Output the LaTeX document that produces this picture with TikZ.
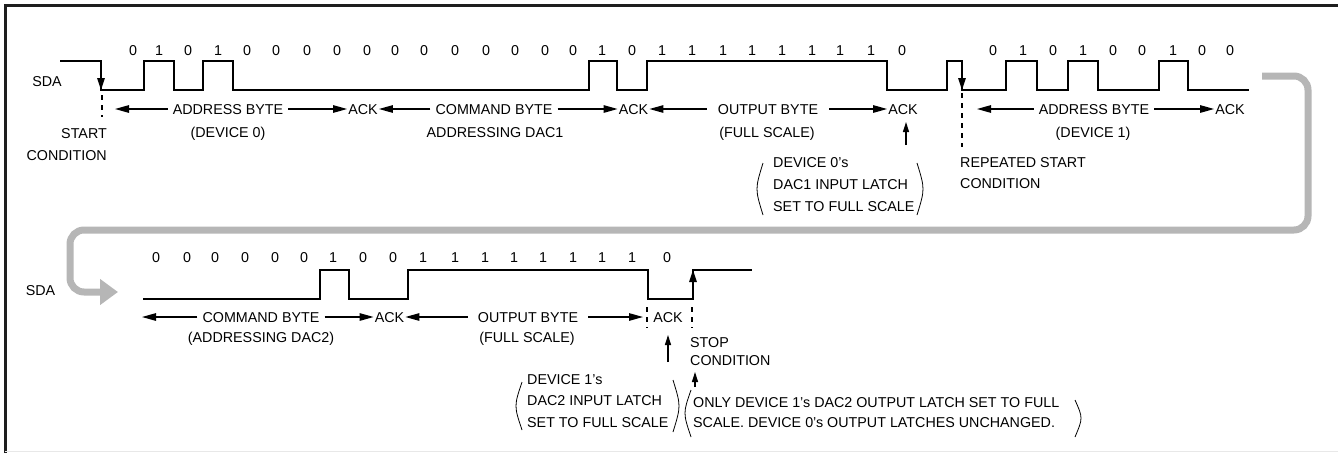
\documentclass[tikz,border=0pt]{standalone}
\usepackage{fontspec}
\setmainfont{Liberation Sans}
\usetikzlibrary{arrows.meta}
\definecolor{grayarrow}{RGB}{182,182,182}
\definecolor{frameline}{RGB}{30,30,30}
\definecolor{bottomline}{RGB}{232,232,232}
\begin{document}
\begin{tikzpicture}[x=1pt,y=-1pt,
  txt/.style={font=\fontsize{14.3}{22}\selectfont, inner xsep=5pt, inner ysep=0pt, text height=10pt, text depth=0pt},
  ack/.style={txt, inner xsep=1pt},
  bitlbl/.style={font=\fontsize{14.3}{16}\selectfont, inner sep=0pt, text height=10pt, text depth=0pt},
  multi/.style={font=\fontsize{14.3}{#1}\selectfont, inner sep=0pt, align=left, anchor=north west},
  wave/.style={line width=1.5pt},
  edgearr/.style={line width=1.5pt, -{Triangle[length=12pt,width=7.5pt]}},
  lblarr/.style={line width=1.2pt, -{Triangle[length=14pt,width=7.5pt]}},
  uparr/.style={line width=1.2pt, -{Triangle[length=10pt,width=6pt]}},
  dashline/.style={line width=1.2pt, dash pattern=on 5pt off 5pt},
  paren/.style={line width=0.8pt},
  bigarrow/.style={draw=grayarrow, line width=7pt, rounded corners=14pt}
]
\useasboundingbox (0,0) rectangle (1338,453);
% frame
\draw[frameline, line width=2.5pt] (5.3,453) -- (5.3,5.3) -- (1338,5.3);
\draw[bottomline, line width=1.5pt] (5,451.5) -- (1338,451.5);

% grey continuation arrow
\draw[bigarrow, -{Triangle[length=18pt,width=25pt]}] (1262,76) -- (1308,76) -- (1308,230) -- (70,230) -- (70,292) -- (118,292);

% ---------- row 1 waveform ----------
\draw[wave] (60,61) -- (101,61) -- (101,90) -- (144,90) -- (144,61) -- (174,61) -- (174,90)
  -- (203,90) -- (203,61) -- (233,61) -- (233,90) -- (589,90) -- (589,61) -- (617,61)
  -- (617,90) -- (647,90) -- (647,61) -- (887,61) -- (887,90) -- (947,90) -- (947,61)
  -- (962,61) -- (962,90) -- (1006,90) -- (1006,61) -- (1037,61) -- (1037,90) -- (1068,90)
  -- (1068,61) -- (1098,61) -- (1098,90) -- (1159,90) -- (1159,61) -- (1188,61) -- (1188,90)
  -- (1249,90);
\draw[edgearr] (101,61) -- (101,90);
\draw[edgearr] (962,61) -- (962,90);

\node[txt] (sda1) at (47,81.5) {SDA};
\foreach \x/\b [count=\i] in {133/0,159/1,188/0,218/1,247/0,276/0,307/0,337/0,367/0,395/0,424/0,455/0,486/0,515/0,545/0,573/0,602/1,632/0,662/1,692/1,723/1,752/1,782/1,812/1,840/1,871/1,902/0}
  \node[bitlbl] (ba\i) at (\x,50) {\b};
\foreach \x/\b [count=\i] in {993/0,1023/1,1053/0,1083/1,1113/0,1142/0,1173/1,1202/0,1230/0}
  \node[bitlbl] (bb\i) at (\x,50) {\b};

% row 1 labels
\coordinate (t1) at (115,109);
\node[txt] (addr1) at (228,109) {ADDRESS BYTE};
\node[ack] (ack1) at (363,109) {ACK};
\node[txt] (cmd1) at (494,109) {COMMAND BYTE};
\node[ack] (ack2) at (633.5,109) {ACK};
\node[txt, inner xsep=11pt] (out1) at (768,109) {OUTPUT BYTE};
\node[ack] (ack3) at (903,109) {ACK};
\draw[lblarr] (addr1.west) -- (t1);
\draw[lblarr] (addr1.east) -- (ack1.west);
\draw[lblarr] (cmd1.west) -- (ack1.east);
\draw[lblarr] (cmd1.east) -- (ack2.west);
\draw[lblarr] (out1.west) -- (ack2.east);
\draw[lblarr] (out1.east) -- (ack3.west);

\node[txt] (dev0) at (228,132) {(DEVICE 0)};
\node[txt] (dac1) at (495,132) {ADDRESSING DAC1};
\node[txt] (fs1) at (767,132) {(FULL SCALE)};
\node[multi=22, align=right, anchor=north east] (start) at (107,128) {START\\CONDITION};
\coordinate (sc1) at (102,95);
\coordinate (sc2) at (102,117);
\draw[dashline] (sc1) -- (sc2);

\node[multi=22] (note1) at (773,157) {DEVICE 0's\\DAC1 INPUT LATCH\\SET TO FULL SCALE};
\coordinate (u1s) at (906,145);
\coordinate (u1e) at (906,122);
\draw[uparr] (u1s) -- (u1e);
\draw[paren] (763,163) .. controls (755,189) .. (763,215);
\draw[paren] (917,163) .. controls (925,189) .. (917,215);

\coordinate (rs1) at (962,93);
\coordinate (rs2) at (962,147);
\draw[dashline] (rs1) -- (rs2);
\node[multi=21.5] (rstart) at (960,157) {REPEATED START\\CONDITION};

\coordinate (t2) at (977,109);
\node[txt] (addr2) at (1094,109) {ADDRESS BYTE};
\node[ack] (ack4) at (1230,109) {ACK};
\node[txt] (dev1) at (1093,132) {(DEVICE 1)};
\draw[lblarr] (addr2.west) -- (t2);
\draw[lblarr] (addr2.east) -- (ack4.west);

% ---------- row 2 waveform ----------
\draw[wave] (143,299) -- (320,299) -- (320,270) -- (349,270) -- (349,299) -- (408,299)
  -- (408,270) -- (648,270) -- (648,299) -- (693,299) -- (693,270) -- (752,270);
\draw[edgearr] (693,299) -- (693,270);

\node[txt] (sda2) at (40.5,290) {SDA};
\foreach \x/\b [count=\i] in {156/0,187/0,215/0,245/0,275/0,304/0,333/1,363/0,393/0,423/1,455/1,485/1,514/1,543/1,573/1,602/1,632/1,667/0}
  \node[bitlbl] (bc\i) at (\x,257) {\b};

\coordinate (t3) at (142,317);
\node[txt] (cmd2) at (261,317) {COMMAND BYTE};
\node[ack] (ack5) at (389.5,317) {ACK};
\node[txt, inner xsep=10pt] (out2) at (528,317) {OUTPUT BYTE};
\coordinate (t4) at (643,317);
\node[ack] (ack6) at (668,317) {ACK};
\draw[lblarr] (cmd2.west) -- (t3);
\draw[lblarr] (cmd2.east) -- (ack5.west);
\draw[lblarr] (out2.west) -- (ack5.east);
\draw[lblarr] (out2.east) -- (t4);
\coordinate (d1a) at (647,307);
\coordinate (d1b) at (647,328);
\coordinate (d2a) at (692,307);
\coordinate (d2b) at (692,328);
\draw[dashline] (d1a) -- (d1b);
\draw[dashline] (d2a) -- (d2b);

\node[txt] (dac2) at (261,337) {(ADDRESSING DAC2)};
\node[txt] (fs2) at (527,337) {(FULL SCALE)};
\node[multi=18] (stop) at (690,337) {STOP\\CONDITION};
\coordinate (u2s) at (668,362);
\coordinate (u2e) at (668,335);
\draw[uparr] (u2s) -- (u2e);
\coordinate (u3s) at (695,387);
\coordinate (u3e) at (695,372);
\draw[uparr] (u3s) -- (u3e);

\node[multi=21.5] (note2) at (527,374) {DEVICE 1's\\DAC2 INPUT LATCH\\SET TO FULL SCALE};
\draw[paren] (522,382) .. controls (514,406) .. (522,430);
\draw[paren] (673,380) .. controls (681,406) .. (673,432);

\node[multi=20] (note3) at (693,397) {ONLY DEVICE 1's DAC2 OUTPUT LATCH SET TO FULL\\SCALE. DEVICE 0's OUTPUT LATCHES UNCHANGED.};
\draw[paren] (691,390) .. controls (683,413) .. (691,437);
\draw[paren] (1075,400) .. controls (1083,418) .. (1075,437);
\end{tikzpicture}
\end{document}
